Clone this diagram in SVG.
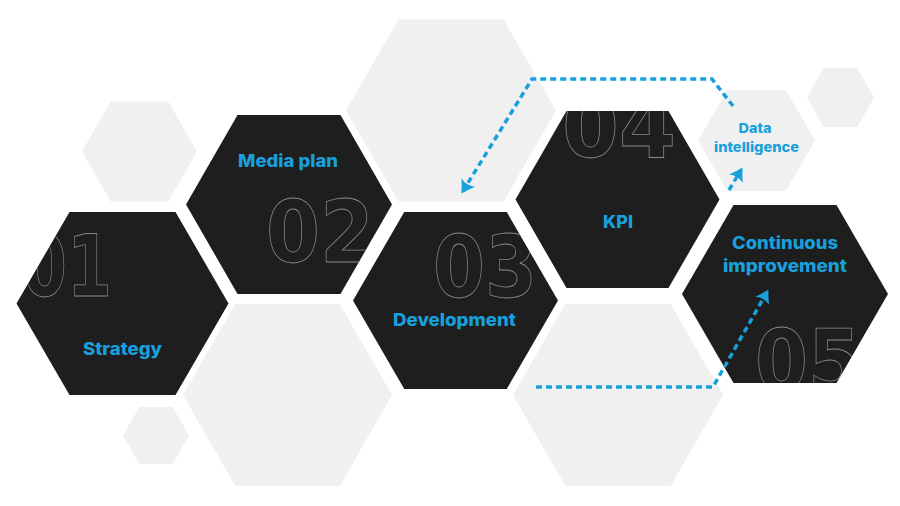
<svg xmlns="http://www.w3.org/2000/svg" width="900" height="506" viewBox="0 0 900 506">
<defs>
<style>
.dark{fill:#1e1e1e}
.gray{fill:#f0f0f0}
.num{fill:none;stroke:#8a8a8a;stroke-width:0.8;font-family:"DejaVu Sans",sans-serif;font-weight:700;font-size:86px}
.lbl{fill:#18a0dc;font-family:"Inter","Open Sans",sans-serif;font-weight:800;font-size:17px;text-anchor:middle}
.sm{font-size:13.5px}
.dash{fill:none;stroke:#18a0dc;stroke-width:3.5;stroke-dasharray:6 4}
</style>
<marker id="ah" markerUnits="userSpaceOnUse" markerWidth="24" markerHeight="24" viewBox="-12 -12 24 24" refX="0" refY="0" orient="auto">
<path d="M-10,-8 Q-3,-3 3,0 Q-3,3 -10,8 Q-6,0 -10,-8 Z" fill="#18a0dc"/>
</marker>
<clipPath id="c1"><polygon points="16.5,303.5 69.5,212 175.5,212 228.5,303.5 175.5,395 69.5,395"/></clipPath>
<clipPath id="c2"><polygon points="186,204.5 237.5,115 340.5,115 392,204.5 340.5,294 237.5,294"/></clipPath>
<clipPath id="c3"><polygon points="353,300.5 404.25,212 506.75,212 558,300.5 506.75,389 404.25,389"/></clipPath>
<clipPath id="c4"><polygon points="515.5,199.5 566.5,111 668.5,111 719.5,199.5 668.5,288 566.5,288"/></clipPath>
<clipPath id="c5"><polygon points="682,294 733.5,205 836.5,205 888,294 836.5,383 733.5,383"/></clipPath>
</defs>
<rect width="900" height="506" fill="#ffffff"/>
<g id="bg-hexes">
<polygon class="gray" points="82,151.5 110.75,101.5 168.25,101.5 197,151.5 168.25,201.5 110.75,201.5"/>
<polygon class="gray" points="346,110.5 398.5,19.5 503.5,19.5 556,110.5 503.5,201.5 398.5,201.5"/>
<polygon class="gray" points="807,97.5 823.75,68 857.25,68 874,97.5 857.25,127 823.75,127"/>
<polygon class="gray" points="183,395 235.25,304 339.75,304 392,395 339.75,486 235.25,486"/>
<polygon class="gray" points="123,435.5 139.5,407 172.5,407 189,435.5 172.5,464 139.5,464"/>
<polygon class="gray" points="513,395 565.5,304 670.5,304 723,395 670.5,486 565.5,486"/>
</g>
<g id="node-01">
<polygon class="dark" points="16.5,303.5 69.5,212 175.5,212 228.5,303.5 175.5,395 69.5,395"/>
<text class="num" x="22" y="296" textLength="90" lengthAdjust="spacingAndGlyphs" clip-path="url(#c1)">01</text>
<text class="lbl" x="122.5" y="355" textLength="79" lengthAdjust="spacingAndGlyphs">Strategy</text>
</g>
<g id="node-02">
<polygon class="dark" points="186,204.5 237.5,115 340.5,115 392,204.5 340.5,294 237.5,294"/>
<text class="num" x="266" y="262" textLength="108" lengthAdjust="spacingAndGlyphs" clip-path="url(#c2)">02</text>
<text class="lbl" x="288" y="167" textLength="100" lengthAdjust="spacingAndGlyphs">Media plan</text>
</g>
<g id="node-03">
<polygon class="dark" points="353,300.5 404.25,212 506.75,212 558,300.5 506.75,389 404.25,389"/>
<text class="num" x="433" y="297" textLength="104" lengthAdjust="spacingAndGlyphs" clip-path="url(#c3)">03</text>
<text class="lbl" x="454.5" y="326" textLength="123" lengthAdjust="spacingAndGlyphs">Development</text>
</g>
<g id="node-04">
<polygon class="dark" points="515.5,199.5 566.5,111 668.5,111 719.5,199.5 668.5,288 566.5,288"/>
<text class="num" x="562" y="157" textLength="114" lengthAdjust="spacingAndGlyphs" clip-path="url(#c4)">04</text>
<text class="lbl" x="618" y="228" textLength="30" lengthAdjust="spacingAndGlyphs">KPI</text>
</g>
<g id="node-data">
<polygon class="gray" points="698,140.5 727.25,90 785.75,90 815,140.5 785.75,191 727.25,191"/>
<text class="lbl sm" x="755" y="133" textLength="33" lengthAdjust="spacingAndGlyphs">Data</text>
<text class="lbl sm" x="756.5" y="152" textLength="85" lengthAdjust="spacingAndGlyphs">intelligence</text>
</g>
<g id="node-05">
<polygon class="dark" points="682,294 733.5,205 836.5,205 888,294 836.5,383 733.5,383"/>
<text class="num" x="755" y="391" textLength="106" lengthAdjust="spacingAndGlyphs" clip-path="url(#c5)">05</text>
<text class="lbl" x="785" y="249" textLength="106" lengthAdjust="spacingAndGlyphs">Continuous</text>
<text class="lbl" x="785" y="272" textLength="124" lengthAdjust="spacingAndGlyphs">improvement</text>
</g>
<g id="connectors">
<path class="dash" d="M733,106 L712,79 L532,79 L463,191" marker-end="url(#ah)"/>
<path class="dash" d="M536,387 L713,387 L767,292" marker-end="url(#ah)"/>
<path class="dash" d="M729,190 L741,170" marker-end="url(#ah)"/>
</g>
</svg>
